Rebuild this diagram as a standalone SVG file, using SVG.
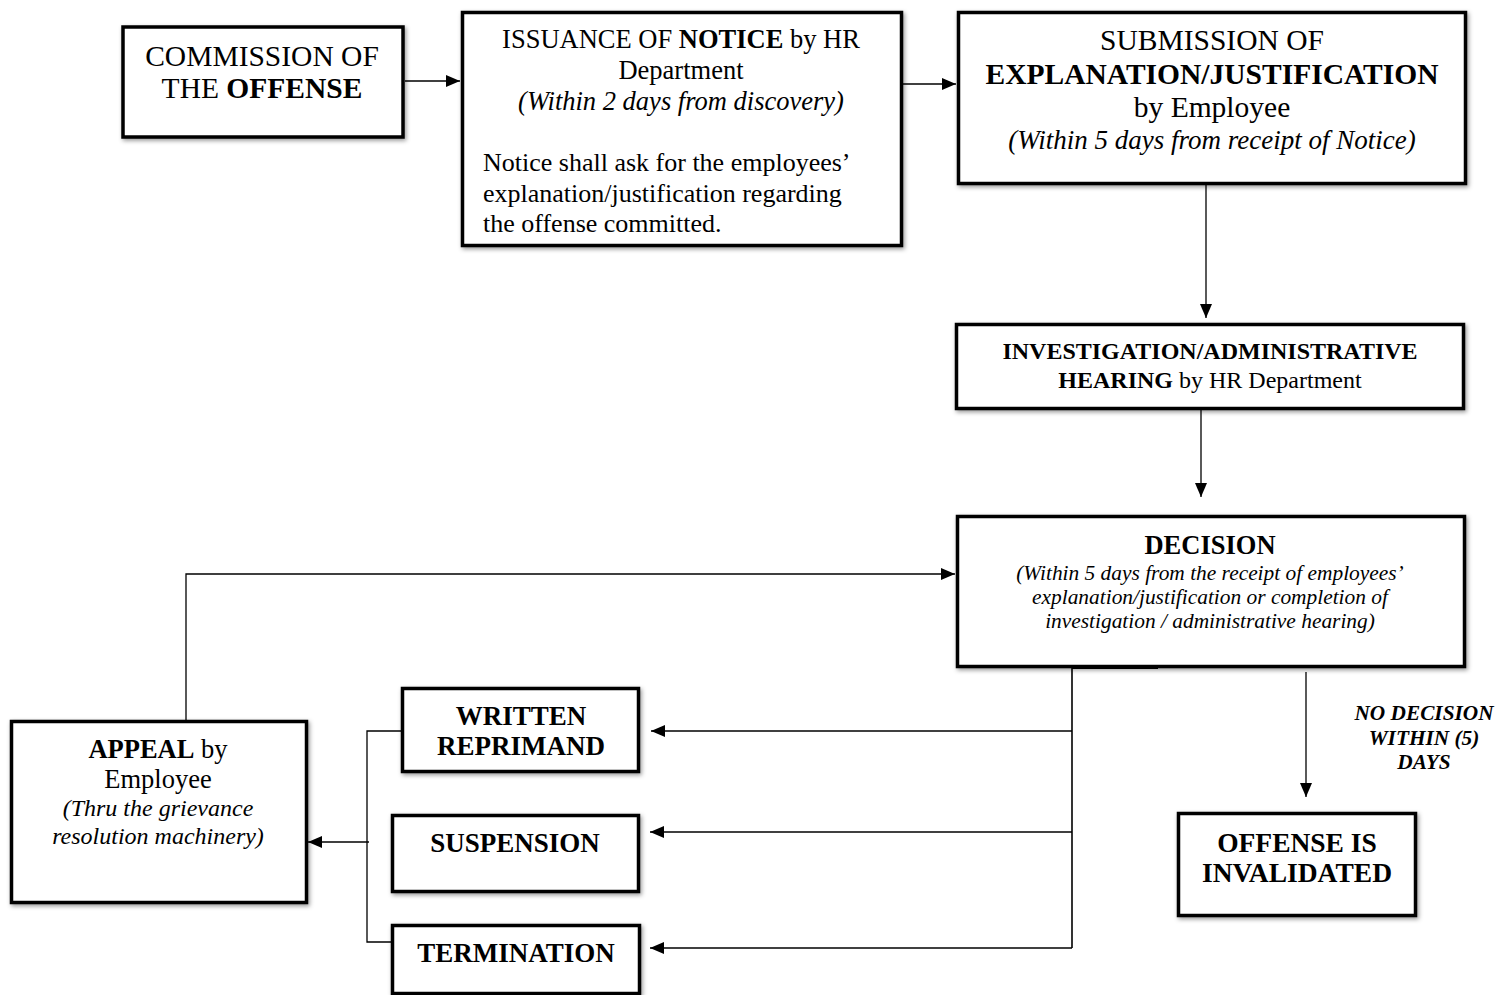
<svg xmlns="http://www.w3.org/2000/svg" width="1512" height="995" viewBox="0 0 1512 995">
<style>
.box{fill:#fff;stroke:#000;stroke-width:3.5;filter:url(#sh)}
.t{font-family:"Liberation Serif","Times New Roman",serif;fill:#000;text-anchor:middle}
.l{text-anchor:start}
.b{font-weight:bold}
.i{font-style:italic}
.c{fill:none;stroke:#000;stroke-width:1.3}
</style>
<defs>
<filter id="sh" x="-10%" y="-10%" width="120%" height="130%">
<feDropShadow dx="1.5" dy="2" stdDeviation="2" flood-color="#000" flood-opacity="0.4"/>
</filter>
<marker id="ah" viewBox="0 0 14 12" refX="14" refY="6" markerWidth="14" markerHeight="12" markerUnits="userSpaceOnUse" orient="auto">
<path d="M0,0 L14,6 L0,12 z" fill="#000"/>
</marker>
</defs>
<rect width="1512" height="995" fill="#fff"/>

<g id="connectors">
<path class="c" d="M405,81 H460" marker-end="url(#ah)"/>
<path class="c" d="M903,84 H956" marker-end="url(#ah)"/>
<path class="c" d="M1206,185 V318" marker-end="url(#ah)"/>
<path class="c" d="M1201,404 V497" marker-end="url(#ah)"/>
<path class="c" d="M1072,668 V948" style="stroke-width:1.6"/>
<path class="c" d="M1072,668 H1158" style="stroke-width:2"/>
<path class="c" d="M1072,731 H651" marker-end="url(#ah)"/>
<path class="c" d="M1072,832 H650" marker-end="url(#ah)"/>
<path class="c" d="M1072,948 H650" marker-end="url(#ah)"/>
<path class="c" d="M1306,672 V797" marker-end="url(#ah)"/>
<path class="c" d="M402,731 H367 V942 H392"/>
<path class="c" d="M369,842 H308" marker-end="url(#ah)"/>
<path class="c" d="M186,721 V574 H955" marker-end="url(#ah)"/>
</g>

<g id="commission">
<rect class="box" x="123" y="27" width="280" height="110"/>
<text class="t" x="262" y="66" font-size="29.5">COMMISSION OF</text>
<text class="t" x="262" y="98" font-size="29.5">THE <tspan class="b">OFFENSE</tspan></text>
</g>

<g id="notice">
<rect class="box" x="462.5" y="12.5" width="439" height="233"/>
<text class="t" x="681" y="48" font-size="26.5">ISSUANCE OF <tspan class="b">NOTICE</tspan> by HR</text>
<text class="t" x="681" y="79" font-size="26.5">Department</text>
<text class="t i" x="681" y="110" font-size="26.5">(Within 2 days from discovery)</text>
<text class="t l" x="483" y="171" font-size="26">Notice shall ask for the employees’</text>
<text class="t l" x="483" y="202" font-size="26">explanation/justification regarding</text>
<text class="t l" x="483" y="232" font-size="26">the offense committed.</text>
</g>

<g id="submission">
<rect class="box" x="958.5" y="12.5" width="507" height="171"/>
<text class="t" x="1212" y="50" font-size="29.5">SUBMISSION OF</text>
<text class="t b" x="1212" y="84" font-size="29.5">EXPLANATION/JUSTIFICATION</text>
<text class="t" x="1212" y="117" font-size="29.5">by Employee</text>
<text class="t i" x="1212" y="149" font-size="27">(Within 5 days from receipt of Notice)</text>
</g>

<g id="investigation">
<rect class="box" x="956.5" y="324.5" width="507" height="84"/>
<text class="t b" x="1210" y="359" font-size="24">INVESTIGATION/ADMINISTRATIVE</text>
<text class="t" x="1210" y="388" font-size="24"><tspan class="b">HEARING</tspan> by HR Department</text>
</g>

<g id="decision">
<rect class="box" x="957.5" y="516.5" width="507" height="150"/>
<text class="t b" x="1210" y="554" font-size="26.5">DECISION</text>
<text class="t i" x="1210" y="580" font-size="21.4">(Within 5 days from the receipt of employees’</text>
<text class="t i" x="1210" y="604" font-size="21.4">explanation/justification or completion of</text>
<text class="t i" x="1210" y="628" font-size="21.4">investigation / administrative hearing)</text>
</g>

<g id="appeal">
<rect class="box" x="11.5" y="721.5" width="295" height="181"/>
<text class="t" x="158" y="758" font-size="26.5"><tspan class="b">APPEAL</tspan> by</text>
<text class="t" x="158" y="788" font-size="26.5">Employee</text>
<text class="t i" x="158" y="816" font-size="24">(Thru the grievance</text>
<text class="t i" x="158" y="844" font-size="24">resolution machinery)</text>
</g>

<g id="written">
<rect class="box" x="402.5" y="688.5" width="236" height="83"/>
<text class="t b" x="521" y="725" font-size="27">WRITTEN</text>
<text class="t b" x="521" y="755" font-size="27">REPRIMAND</text>
</g>

<g id="suspension">
<rect class="box" x="392.5" y="815.5" width="246" height="76"/>
<text class="t b" x="515" y="852" font-size="27">SUSPENSION</text>
</g>

<g id="termination">
<rect class="box" x="392.5" y="925.5" width="247" height="68"/>
<text class="t b" x="516" y="962" font-size="27">TERMINATION</text>
</g>

<g id="invalidated">
<rect class="box" x="1178.5" y="813.5" width="237" height="102"/>
<text class="t b" x="1297" y="852" font-size="27.5">OFFENSE IS</text>
<text class="t b" x="1297" y="882" font-size="27.5">INVALIDATED</text>
</g>

<g id="label-no-decision">
<text class="t b i" x="1424" y="720" font-size="21.3">NO DECISION</text>
<text class="t b i" x="1424" y="745" font-size="21.3">WITHIN (5)</text>
<text class="t b i" x="1424" y="769" font-size="21.3">DAYS</text>
</g>
</svg>
